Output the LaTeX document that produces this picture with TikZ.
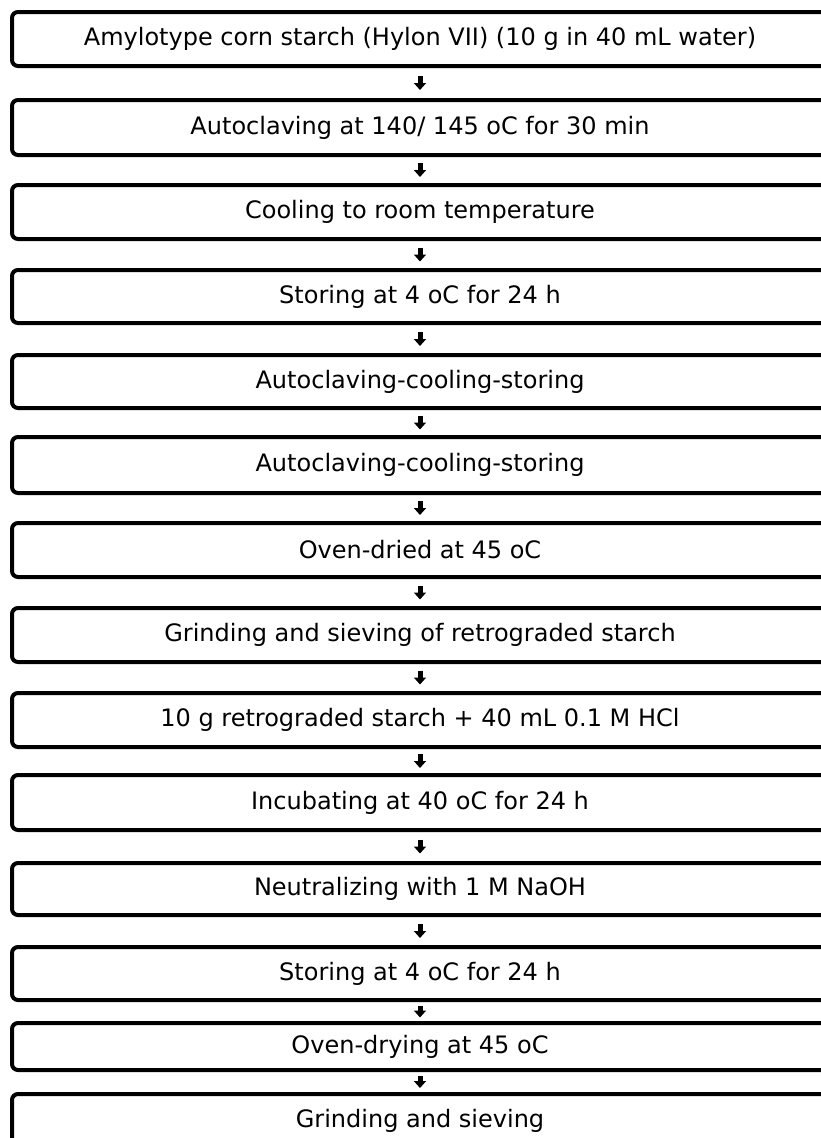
\documentclass[tikz,border=0pt]{standalone}
\usepackage{fontspec}
\setmainfont{DejaVu Sans}
\usetikzlibrary{arrows.meta,calc}
\tikzset{
  stepbox/.style={draw=black, line width=4pt, rounded corners=6pt, minimum width=816pt,
    inner sep=0pt, anchor=center, font=\fontsize{24}{28}\selectfont, text=black},
  flow/.style={line width=5pt, draw=black, -{Triangle[width=12pt,length=7pt]}},
}
\newcommand{\flowarrow}[3]{%
  \draw[flow] ($(#1.south)!0.5!(#2.north)+(0,#3)$) -- ($(#1.south)!0.5!(#2.north)-(0,#3)$);}
\begin{document}
\begin{tikzpicture}[x=1pt,y=1pt]
\useasboundingbox (0,0) rectangle (821,-1138);
\fill[white] (0,0) rectangle (821,-1138);
% boxes: centre y = -(top+bottom)/2, height = bottom-top
\node[stepbox, minimum height=54pt] (b1) at (420,-39) {Amylotype corn starch (Hylon VII) (10 g in 40 mL water)};
\node[stepbox, minimum height=55pt] (b2) at (420,-127.5) {Autoclaving at 140/ 145 oC for 30 min};
\node[stepbox, minimum height=54pt] (b3) at (420,-212) {Cooling to room temperature};
\node[stepbox, minimum height=53pt] (b4) at (420,-296.5) {Storing at 4 oC for 24 h};
\node[stepbox, minimum height=53pt] (b5) at (420,-381.5) {Autoclaving-cooling-storing};
\node[stepbox, minimum height=56pt] (b6) at (420,-465) {Autoclaving-cooling-storing};
\node[stepbox, minimum height=54pt] (b7) at (420,-550) {Oven-dried at 45 oC};
\node[stepbox, minimum height=54pt] (b8) at (420,-635) {Grinding and sieving of retrograded starch};
\node[stepbox, minimum height=54pt] (b9) at (420,-720) {10 g retrograded starch + 40 mL 0.1 M HCl};
\node[stepbox, minimum height=55pt] (b10) at (420,-802.5) {Incubating at 40 oC for 24 h};
\node[stepbox, minimum height=52pt] (b11) at (420,-889) {Neutralizing with 1 M NaOH};
\node[stepbox, minimum height=53pt] (b12) at (420,-973.5) {Storing at 4 oC for 24 h};
\node[stepbox, minimum height=47pt] (b13) at (420,-1046.5) {Oven-drying at 45 oC};
\node[stepbox, minimum height=54pt] (b14) at (420,-1121) {\raisebox{6pt}{Grinding and sieving}};
% arrows
\flowarrow{b1}{b2}{7}
\flowarrow{b2}{b3}{7}
\flowarrow{b3}{b4}{7}
\flowarrow{b4}{b5}{7}
\flowarrow{b5}{b6}{7}
\flowarrow{b6}{b7}{7}
\flowarrow{b7}{b8}{7}
\flowarrow{b8}{b9}{7}
\flowarrow{b9}{b10}{7}
\flowarrow{b10}{b11}{7}
\flowarrow{b11}{b12}{7}
\flowarrow{b12}{b13}{6}
\flowarrow{b13}{b14}{6}
\end{tikzpicture}
\end{document}
